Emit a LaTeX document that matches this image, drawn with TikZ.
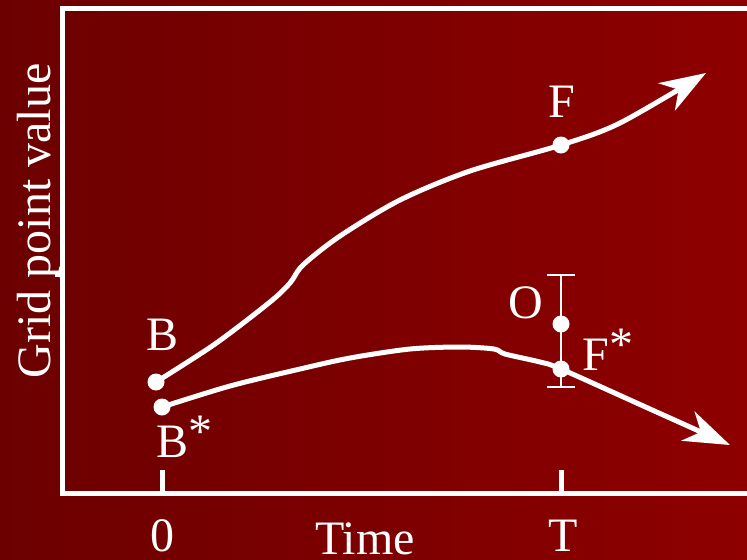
\documentclass[tikz,border=0pt]{standalone}
\usepackage{fontspec}
\setmainfont{Liberation Serif}
\usetikzlibrary{arrows.meta, calc}
\definecolor{bgleft}{HTML}{6C0000}
\definecolor{bgright}{HTML}{8E0000}

\begin{document}
\begin{tikzpicture}[x=0.5pt, y=-0.5pt,
    >={Stealth[length=23pt, width=16pt, inset=7pt]},
    dot/.style={circle, fill=white, inner sep=0pt, minimum size=8.5pt},
    lbl/.style={text=white, font=\fontsize{24}{28}\selectfont, inner sep=0pt, anchor=base},
    curve/.style={white, line width=2.5pt, line join=round},
    axis/.style={white, line width=2.5pt}]
  \useasboundingbox (0,0) rectangle (747,559);
  \fill[left color=bgleft, right color=bgright] (0,0) rectangle (747,559);

  % frame and ticks
  \coordinate (TR) at (747,8.5);
  \coordinate (TL) at (62.5,8.5);
  \coordinate (BL) at (62.5,493);
  \coordinate (BR) at (747,493);
  \draw[axis] (TR) -- (TL) -- (BL) -- (BR);

  \coordinate (t0) at (162,493);
  \coordinate (tT) at (561,493);
  \coordinate (ty) at (62.5,274);
  \draw[axis] (t0) -- ++(0,-23);
  \draw[axis] (tT) -- ++(0,-23);
  \draw[axis] (ty) -- ++(-8,0);

  % error bar
  \coordinate (ebtop) at (561,275);
  \coordinate (ebbot) at (561,387);
  \draw[white, line width=1.2pt] (ebtop) -- (ebbot);
  \draw[white, line width=1.2pt] ($(ebtop)+(-14,0)$) -- ($(ebtop)+(14,0)$);
  \draw[white, line width=1.2pt] ($(ebbot)+(-14,0)$) -- ($(ebbot)+(14,0)$);

  % points
  \node[dot] (B) at (156,382) {};
  \node[dot] (Bs) at (162,407) {};
  \node[dot] (F) at (561,145) {};
  \node[dot] (O) at (561,324) {};
  \node[dot] (Fs) at (561,369) {};

  % trajectories
  \draw[curve, ->] plot[smooth, tension=0.5] coordinates {(B) (215,344) (270,302) (290,283) (303,265) (340,236) (400,200) (470,171) (F) (620,123) (706,73)};
  \draw[curve, ->] plot[smooth, tension=0.5] coordinates {(Bs) (230,386) (300,369) (350,358) (410,349) (460,347) (494,349) (505,354) (540,362) (Fs) (650,409) (730,445)};

  % labels
  \node[lbl] (lB) at (163,350) {B};
  \node[lbl, anchor=base west] (lBs) at (156,457) {B\raisebox{5pt}{*}};
  \node[lbl] (lF) at (562,117) {F};
  \node[lbl] (lO) at (526,318) {O};
  \node[lbl, anchor=base west] (lFs) at (582,370) {F\raisebox{5pt}{*}};
  \node[lbl] (l0) at (162,551) {0};
  \node[lbl] (lT) at (563,551) {T};
  \node[lbl] (ltime) at (365,554) {Time};
  \node[lbl, rotate=90] (lgrid) at (50,221) {Grid point value};
\end{tikzpicture}
\end{document}
